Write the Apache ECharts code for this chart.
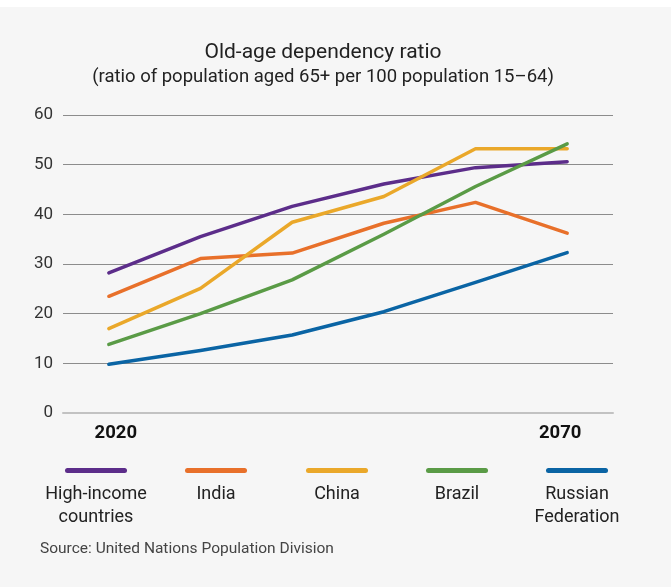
<!DOCTYPE html>
<html>
<head>
<meta charset="utf-8">
<script src="https://cdn.jsdelivr.net/npm/echarts@6/dist/echarts.min.js"></script>
<style>
  html, body { margin: 0; padding: 0; background: #ffffff; }
  #chart { width: 671px; height: 580px; margin-top: 7px; }
</style>
</head>
<body>
<div id="chart"></div>
<script>
// data
var years = ['2020', '2030', '2040', '2050', '2060', '2070'];
var highIncome = [28.2, 35.5, 41.6, 46.1, 49.4, 50.6];
var india = [23.5, 31.1, 32.2, 38.2, 42.4, 36.2];
var china = [17.0, 25.1, 38.4, 43.6, 53.2, 53.2];
var brazil = [13.8, 20.0, 26.8, 36.0, 45.6, 54.2];
var russia = [9.8, 12.6, 15.7, 20.4, 26.3, 32.3];
var yTicks = [0, 10, 20, 30, 40, 50, 60];

var seriesNames = ['High-income countries', 'India', 'China', 'Brazil', 'Russian Federation'];
var legendLabels = ['High-income\ncountries', 'India', 'China', 'Brazil', 'Russian\nFederation'];
var seriesData = [highIncome, india, china, brazil, russia];
var colors = ['#5c2d8a', '#e8702a', '#eaa82a', '#5a9b46', '#0a64a4'];

var font = 'Roboto, "Noto Sans", sans-serif';
var chart = echarts.init(document.getElementById('chart'));

// legend icon spots, one per series
var legendX = [65, 185, 306, 426, 546];
var capsule = 'path://M2.5,0 H59.5 A2.5,2.5 0 0 1 59.5,5 H2.5 A2.5,2.5 0 0 1 2.5,0 Z';

chart.setOption({
  backgroundColor: '#f6f6f6',
  textStyle: { fontFamily: font },
  title: {
    left: 318,
    top: 30,
    textAlign: 'center',
    text: 'Old-age dependency ratio',
    subtext: '(ratio of population aged 65+ per 100 population 15\u201364)',
    itemGap: 5,
    textStyle: { fontFamily: font, fontSize: 21, fontWeight: 'normal', color: '#222' },
    subtextStyle: { fontFamily: font, fontSize: 18.5, color: '#222' }
  },
  legend: seriesNames.map(function (name, i) {
    return {
      data: [{ name: name, icon: capsule }],
      left: legendX[i],
      top: 461,
      padding: 0,
      itemWidth: 62,
      itemHeight: 5,
      selectedMode: false,
      formatter: function () { return ''; },
      textStyle: { fontSize: 1 }
    };
  }),
  grid: { left: 63, right: 58, top: 108, bottom: 174 },
  xAxis: {
    type: 'category',
    data: years,
    boundaryGap: true,
    axisTick: { show: false },
    axisLine: { show: true, lineStyle: { color: '#c2c2c2', width: 2 } },
    axisLabel: {
      interval: 0,
      margin: 11,
      formatter: function (v, idx) {
        if (idx === 0) return '{a|' + v + '}';
        if (idx === years.length - 1) return '{b|' + v + '}';
        return '';
      },
      rich: {
        a: { fontFamily: font, fontSize: 18.5, fontWeight: 'bold', color: '#111', padding: [0, 0, 0, 14] },
        b: { fontFamily: font, fontSize: 18.5, fontWeight: 'bold', color: '#111', padding: [0, 14, 0, 0] }
      }
    }
  },
  yAxis: {
    type: 'value',
    min: yTicks[0],
    max: yTicks[yTicks.length - 1],
    interval: 10,
    axisLine: { show: false },
    axisTick: { show: false },
    axisLabel: { margin: 10, fontFamily: font, fontSize: 17, color: '#333' },
    splitLine: {
      lineStyle: { color: ['#c2c2c2', '#8c8c8c', '#8c8c8c', '#8c8c8c', '#8c8c8c', '#8c8c8c', '#8c8c8c'], width: 1 }
    }
  },
  series: seriesNames.map(function (name, i) {
    return {
      name: name,
      type: 'line',
      data: seriesData[i],
      symbol: 'none',
      color: colors[i],
      lineStyle: { width: 3.5, color: colors[i], cap: 'round', join: 'round' }
    };
  }),
  graphic: legendLabels.map(function (label, i) {
    return {
      type: 'text',
      x: legendX[i] + 31,
      y: 476,
      style: {
        text: label,
        fontFamily: font,
        fontSize: 18,
        lineHeight: 23,
        fill: '#222',
        align: 'center',
        verticalAlign: 'top'
      }
    };
  }).concat([{
    type: 'text',
    x: 40,
    y: 534,
    style: {
      text: 'Source: United Nations Population Division',
      fontFamily: font,
      fontSize: 15.5,
      fill: '#444',
      align: 'left',
      verticalAlign: 'top'
    }
  }])
});
</script>
</body>
</html>
